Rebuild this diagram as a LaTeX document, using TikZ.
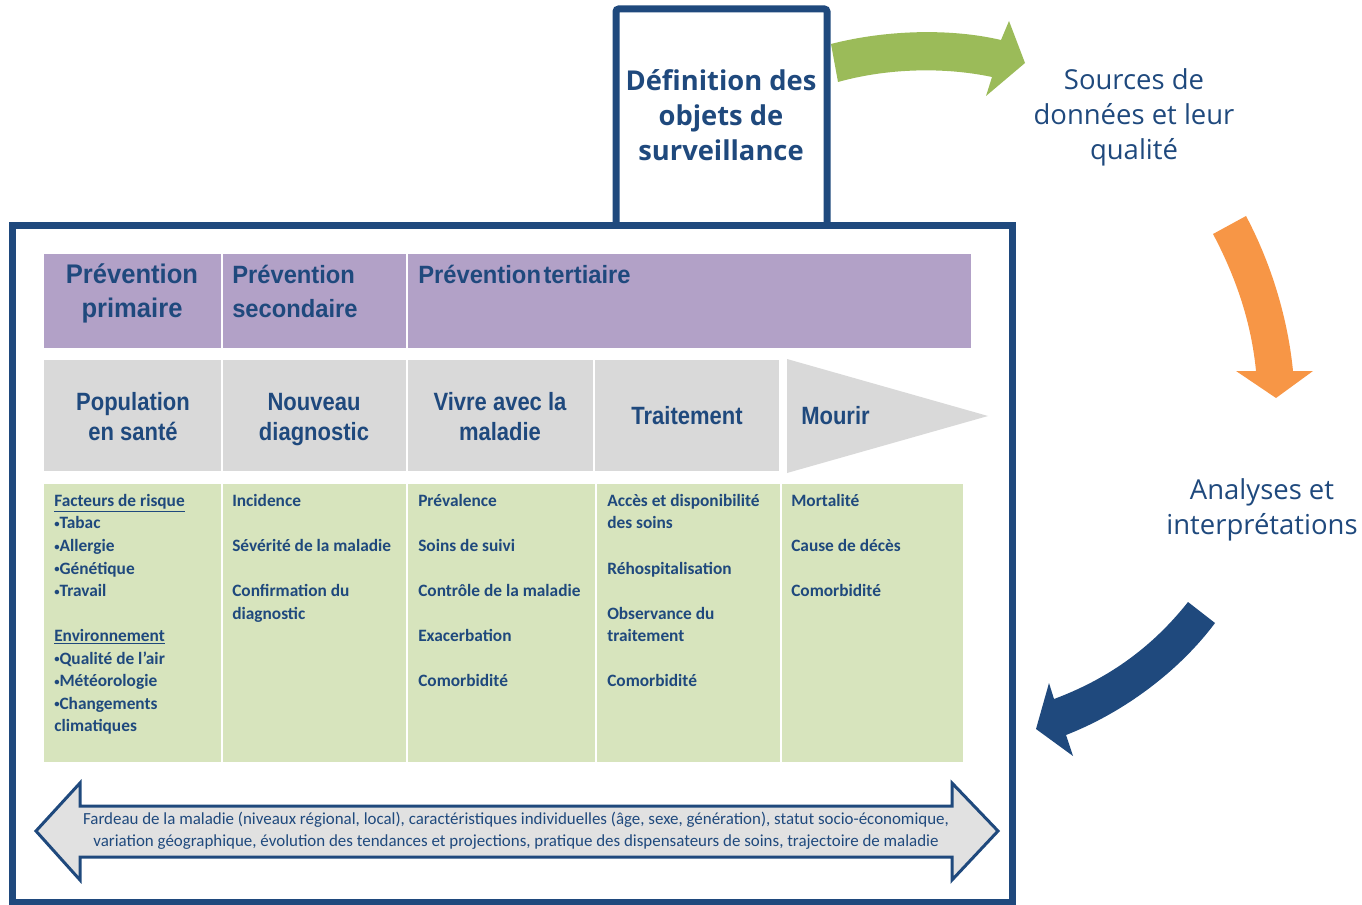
\documentclass[tikz,border=0pt]{standalone}
\usepackage{fontspec}
\setmainfont{Carlito}
\newfontfamily\headfont[FakeStretch=0.95]{Liberation Sans}
\newfontfamily\stagefont[FakeStretch=0.88]{Liberation Sans}
\newfontfamily\cyclefont{Open Sans}
\usetikzlibrary{calc}
\definecolor{survBlue}{RGB}{31,73,125}
\definecolor{survGreen}{RGB}{155,187,89}
\definecolor{survOrange}{RGB}{247,150,70}
\definecolor{survPurple}{RGB}{178,161,199}
\definecolor{survGrey}{RGB}{217,217,217}
\definecolor{survLeaf}{RGB}{215,228,189}
\newcommand\bul{\raisebox{0.15ex}{\fontsize{8}{8}\selectfont•}}

\begin{document}
\begin{tikzpicture}[x=0.75pt, y=-0.75pt,
  cycle/.style={font=\cyclefont\fontsize{20.6}{26.25}\selectfont,
                text=survBlue, align=center, inner sep=0pt},
  prev/.style={font=\headfont\bfseries\fontsize{18.75}{25.5}\selectfont,
               text=survBlue, inner sep=0pt},
  stage/.style={font=\stagefont\bfseries\fontsize{18.75}{22.5}\selectfont,
                text=survBlue, align=center, inner sep=0pt},
  item/.style={font=\bfseries\fontsize{13}{16.9}\selectfont,
               text=survBlue, align=left, anchor=north west, inner sep=0pt},
  divider/.style={white, line width=1.5pt}
]
  \useasboundingbox (0,0) rectangle (1362,905);

  % Top box and the big frame
  \draw[survBlue, fill=white, line width=5.25pt, rounded corners=2pt]
    (616,222) -- (616,9) -- (827,9) -- (827,222);
  \draw[survBlue, line width=5.25pt] (12,226) rectangle (1012,902);
  \node[cycle, font=\cyclefont\bfseries\fontsize{20.5}{26.25}\selectfont]
    (defn) at (721,115) {Définition des\\objets de\\surveillance};

  % Cycle labels
  \node[cycle] (src) at (1134,117) {Sources de\\données et leur\\qualité};
  \node[cycle] (ana) at (1262,510) {Analyses et\\interprétations};

  % Cycle arrows
  \fill[survGreen] (831,44) .. controls (885,30) and (950,28) .. (1001,40)
    -- (1009,21) -- (1025,63) -- (986,96) -- (992,77)
    .. controls (945,67) and (888,68) .. (838,82) -- cycle;
  \fill[survOrange] (1213,234) .. controls (1240,285) and (1252,330) .. (1256,371)
    -- (1236,371) -- (1276,398) -- (1313,371) -- (1293,371)
    .. controls (1288,320) and (1272,265) .. (1246,216) -- cycle;
  \fill[survBlue] (1188,602) .. controls (1150,650) and (1105,680) .. (1054,699)
    -- (1049,683) -- (1036,729) -- (1073,756) -- (1066,735)
    .. controls (1125,712) and (1180,670) .. (1215,623) -- cycle;

  % Prevention row
  \fill[survPurple] (44,254) rectangle (971,348);
  \draw[divider] (222,254) -- (222,348);
  \draw[divider] (407,254) -- (407,348);
  \node[prev, align=center, font=\headfont\bfseries\fontsize{20.2}{25.5}\selectfont]
    (prim) at (132,293) {Prévention\\primaire};
  \node[prev, align=left, anchor=west] (sec) at (232,291) {Prévention\\secondaire};
  \node[prev, anchor=west] (tert) at (418,274) {Prévention\hspace{0.1em}tertiaire};

  % Stages row
  \fill[survGrey] (44,360) rectangle (779,471);
  \fill[survGrey] (787,359) -- (988,416) -- (787,473) -- cycle;
  \foreach \x in {222,407,594}
    \draw[divider] (\x,360) -- (\x,471);
  \node[stage] (pop) at (133,417) {Population\\en santé};
  \node[stage] (diag) at (314,420) {Nouveau\\diagnostic};
  \node[stage] (vivre) at (500,417) {Vivre avec la\\maladie};
  \node[stage] (trait) at (687,416) {Traitement};
  \node[stage, anchor=west] (mourir) at (801,416) {Mourir};

  % Indicators
  \fill[survLeaf] (44,484) rectangle (963,762);
  \foreach \x in {222,407,596,781}
    \draw[divider, line width=1pt] (\x,484) -- (\x,762);
  \node[item] (risk) at (54,494) {\underline{Facteurs de risque}\\\bul Tabac\\\bul Allergie\\
    \bul Génétique\\\bul Travail\\[16.9pt]\underline{Environnement}\\\bul Qualité de l’air\\
    \bul Météorologie\\\bul Changements\\climatiques};
  \node[item] (newdx) at (232,494) {Incidence\\[16.9pt]Sévérité de la maladie\\[16.9pt]
    Confirmation du\\diagnostic};
  \node[item] (living) at (418,494) {Prévalence\\[16.9pt]Soins de suivi\\[16.9pt]
    Contrôle de la maladie\\[16.9pt]Exacerbation\\[16.9pt]Comorbidité};
  \node[item] (treat) at (607,494) {Accès et disponibilité\\des soins\\[16.9pt]
    Réhospitalisation\\[16.9pt]Observance du\\traitement\\[16.9pt]Comorbidité};
  \node[item] (death) at (791,494) {Mortalité\\[16.9pt]Cause de décès\\[16.9pt]Comorbidité};

  % Burden arrow
  \draw[survBlue, fill=survGrey!80!white, line width=2.25pt, line join=miter]
    (36,831) -- (80,783) -- (80,806) -- (952,806) -- (952,783) -- (998,831)
    -- (952,880) -- (952,857) -- (80,857) -- (80,880) -- cycle;
  \node[align=center, text=survBlue, font=\fontsize{12.7}{16.5}\selectfont]
    (burden) at (516,831) {Fardeau de la maladie (niveaux régional, local), caractéristiques individuelles (âge, sexe, génération), statut socio-économique,\\
    variation géographique, évolution des tendances et projections, pratique des dispensateurs de soins, trajectoire de maladie};
\end{tikzpicture}
\end{document}
